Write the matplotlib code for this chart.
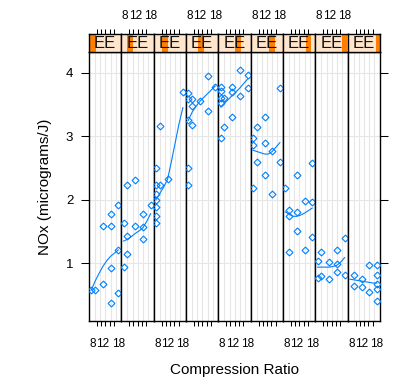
import matplotlib
matplotlib.use("Agg")
import matplotlib.pyplot as plt
from matplotlib.patches import Rectangle

plt.rcParams["font.family"] = ["Liberation Sans", "DejaVu Sans"]

# NOx vs compression ratio, one panel per shingle level of EE
panel_c = [
    [7.5, 9, 12, 12, 15, 15, 15, 15, 18, 18, 18],
    [7.5, 7.5, 9, 9, 9, 12, 12, 15, 15, 15, 18],
    [7.5, 7.5, 7.5, 7.5, 7.5, 7.5, 7.5, 9, 9, 12, 18],
    [7.5, 7.5, 7.5, 7.5, 7.5, 9, 9, 9, 12, 15, 15, 18],
    [7.5, 7.5, 7.5, 7.5, 7.5, 9, 9, 12, 12, 12, 15, 15, 18, 18],
    [7.5, 7.5, 7.5, 9, 9, 12, 12, 12, 15, 15, 18, 18],
    [7.5, 9, 9, 9, 12, 12, 12, 15, 15, 18, 18, 18],
    [7.5, 7.5, 9, 9, 12, 12, 15, 15, 15, 18, 18],
    [9, 9, 12, 12, 15, 15, 18, 18, 18, 18, 18],
]
panel_nox = [
    [0.58, 0.58, 0.68, 1.59, 0.93, 1.59, 1.78, 0.38, 1.21, 1.91, 0.54],
    [0.94, 1.63, 1.15, 1.43, 2.24, 2.31, 1.59, 1.78, 1.57, 1.38, 1.91],
    [2.50, 2.23, 2.09, 2.00, 1.88, 1.75, 1.63, 2.24, 3.16, 2.32, 3.70],
    [3.68, 3.58, 3.25, 2.50, 2.23, 3.58, 3.48, 3.17, 3.55, 3.95, 3.40, 3.78],
    [3.78, 3.71, 3.60, 3.53, 2.98, 3.60, 3.14, 3.78, 3.69, 3.31, 4.04, 3.64, 3.97, 3.76],
    [2.98, 2.87, 2.18, 3.14, 2.60, 3.30, 2.89, 2.39, 2.76, 2.09, 2.59, 3.76],
    [2.18, 1.84, 1.74, 1.18, 2.39, 1.81, 1.51, 1.98, 1.21, 2.58, 1.96, 1.41],
    [1.03, 0.77, 1.18, 0.80, 1.02, 0.76, 1.21, 0.99, 0.87, 1.40, 0.82],
    [0.81, 0.65, 0.76, 0.62, 0.97, 0.55, 0.97, 0.82, 0.67, 0.59, 0.41],
]

# smooth (loess) curve
fit_c = [7.5, 9, 10.5, 12, 13.5, 15, 16.5, 18]
fit_nox = [
    [0.58, 0.72, 0.84, 0.95, 1.04, 1.11, 1.16, 1.21],
    [1.35, 1.38, 1.42, 1.47, 1.51, 1.56, 1.66, 1.78],
    [2.00, 2.10, 2.20, 2.32, 2.60, 2.90, 3.20, 3.45],
    [3.25, 3.38, 3.47, 3.55, 3.61, 3.67, 3.73, 3.79],
    [3.46, 3.52, 3.58, 3.64, 3.70, 3.76, 3.83, 3.90],
    [2.78, 2.76, 2.74, 2.72, 2.72, 2.76, 2.83, 2.90],
    [1.81, 1.77, 1.74, 1.74, 1.76, 1.79, 1.83, 1.87],
    [0.94, 0.94, 0.94, 0.94, 0.95, 0.97, 1.02, 1.09],
    [0.75, 0.74, 0.73, 0.72, 0.71, 0.70, 0.69, 0.69],
]

# shingle intervals of E shown in the strips
e_range = (0.535, 1.232)
e_lo = [0.535, 0.664, 0.708, 0.794, 0.895, 0.939, 1.031, 1.103, 1.139]
e_hi = [0.686, 0.781, 0.837, 0.917, 1.018, 1.062, 1.139, 1.210, 1.232]

x_labels = [8, 12, 18]
y_ticks = [1, 2, 3, 4]

BLUE = "#0080ff"
GRID = "#e6e6e6"
W, H = 401, 382

fig = plt.figure(figsize=(W / 100, H / 100), dpi=100)

n = len(panel_c)
pan_left, pan_right = 89, 380
pan_top, pan_bot = 52, 321
strip_top = 34
pw = (pan_right - pan_left) / n
xlim = (6.6, 19.2)
ylim = (0.092, 4.326)
minor_x = [8 + k * 10 / 6 for k in range(7)]

for i in range(n):
    x0 = (pan_left + i * pw) / W
    ax = fig.add_axes([x0, 1 - pan_bot / H, pw / W, (pan_bot - pan_top) / H])
    ax.set_xlim(xlim)
    ax.set_ylim(ylim)
    for g in [9, 11, 13, 15, 17]:
        ax.axvline(g, color=GRID, lw=0.8, zorder=0)
    for g in y_ticks:
        ax.axhline(g, color=GRID, lw=0.8, zorder=0)
    ax.plot(fit_c, fit_nox[i], color=BLUE, lw=0.8, zorder=2)
    ax.plot(panel_c[i], panel_nox[i], ls="none", marker="D", ms=3.5,
            mfc="none", mec=BLUE, mew=0.8, zorder=3)

    ax.set_xticks(x_labels)
    ax.set_xticks(minor_x, minor=True)
    ax.tick_params(axis="x", which="major", length=0, pad=12, labelsize=8.5)
    ax.tick_params(axis="x", which="minor", length=3.8, width=0.75, direction="out")
    if i % 2 == 1:
        ax.tick_params(axis="x", labelbottom=False)

    ax.set_yticks(y_ticks)
    if i == 0:
        ax.tick_params(axis="y", length=5.8, width=0.75, pad=5.5, labelsize=9.5)
    elif i == n - 1:
        ax.yaxis.tick_right()
        ax.tick_params(axis="y", length=5.8, width=0.75, labelright=False)
    else:
        ax.tick_params(axis="y", length=0, labelleft=False)
    for s in ax.spines.values():
        s.set_linewidth(1.0)

    # strip with shingle interval
    sx = fig.add_axes([x0, 1 - pan_top / H, pw / W, (pan_top - strip_top) / H])
    sx.set_xlim(xlim)
    sx.set_facecolor("#ffe5cc")
    span = e_range[1] - e_range[0]
    sx.add_patch(Rectangle(((e_lo[i] - e_range[0]) / span, 0),
                           (e_hi[i] - e_lo[i]) / span, 1,
                           transform=sx.transAxes, color="#ff7f00", lw=0))
    sx.text(0.5, 0.45, "EE", transform=sx.transAxes, ha="center", va="center",
            fontsize=12, color="#111111")
    sx.set_yticks([])
    sx.xaxis.tick_top()
    sx.set_xticks(x_labels)
    sx.set_xticks(minor_x, minor=True)
    sx.tick_params(axis="x", which="major", length=0, pad=8.5, labelsize=8.5)
    sx.tick_params(axis="x", which="minor", length=3.8, width=0.75, direction="out")
    if i % 2 == 0:
        sx.tick_params(axis="x", labeltop=False)
    for s in sx.spines.values():
        s.set_linewidth(1.0)

fig.text((pan_left + pan_right) / 2 / W, 1 - 370 / H, "Compression Ratio",
         ha="center", va="center", fontsize=11)
fig.text(45 / W, 1 - (pan_top + pan_bot) / 2 / H, "NOx (micrograms/J)",
         ha="center", va="center", rotation=90, fontsize=11)

fig.savefig("out.png", dpi=100)
